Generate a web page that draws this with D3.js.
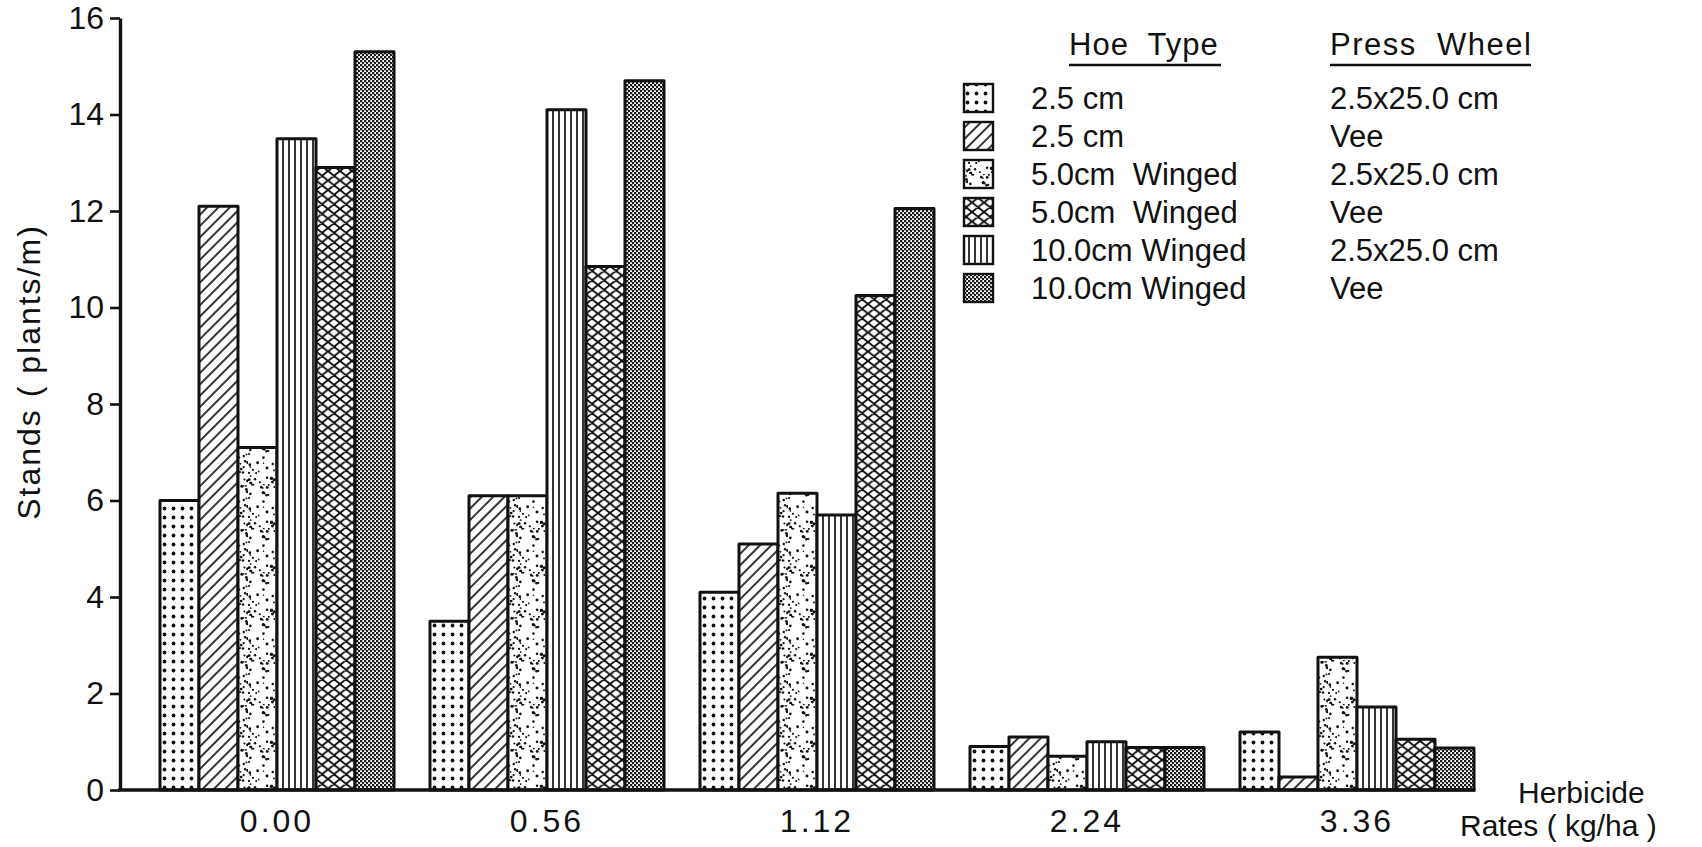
<!DOCTYPE html>
<html><head><meta charset="utf-8">
<script src="https://cdn.jsdelivr.net/npm/d3@7"></script>
<style>
body{margin:0;background:#fff;}
svg text{font-family:"Liberation Sans",Arial,sans-serif;fill:#111;}
</style></head><body>
<svg id="chart" width="1702" height="847"></svg>
<script>
// ---- data ----
const rates = ["0.00","0.56","1.12","2.24","3.36"];
const seriesKeys = ["dots","hatch","stipple","xhatch","vlines","dense"];   // legend order
const hoeTypes = ["2.5 cm","2.5 cm","5.0cm  Winged","5.0cm  Winged","10.0cm Winged","10.0cm Winged"];
const pressWheels = ["2.5x25.0 cm","Vee","2.5x25.0 cm","Vee","2.5x25.0 cm","Vee"];
const barOrder = ["dots","hatch","stipple","vlines","xhatch","dense"];      // order inside each group
const dotsValues    = [6.0, 3.5, 4.1, 0.9, 1.2];
const hatchValues   = [12.1, 6.1, 5.1, 1.1, 0.27];
const stippleValues = [7.1, 6.1, 6.15, 0.7, 2.75];
const xhatchValues  = [12.9, 10.85, 10.25, 0.88, 1.05];
const vlinesValues  = [13.5, 14.1, 5.7, 1.0, 1.72];
const denseValues   = [15.3, 14.7, 12.05, 0.88, 0.87];
const yTicks = [0,2,4,6,8,10,12,14,16];

const valuesByKey = {dots:dotsValues, hatch:hatchValues, stipple:stippleValues,
                     xhatch:xhatchValues, vlines:vlinesValues, dense:denseValues};

const svg = d3.select("#chart");
svg.append("rect").attr("width",1702).attr("height",847).attr("fill","#fff");

// ---- patterns ----
const defs = svg.append("defs");
function pat(id,w,h){
  const p = defs.append("pattern").attr("id",id).attr("patternUnits","userSpaceOnUse")
    .attr("width",w).attr("height",h);
  p.append("rect").attr("width",w).attr("height",h).attr("fill","#fff");
  return p;
}
pat("p-dots",9,9).append("circle").attr("cx",4.5).attr("cy",4.5).attr("r",1.9).attr("fill","#111");
pat("p-hatch",8,8).attr("patternTransform","rotate(45)")
  .append("line").attr("x1",4).attr("x2",4).attr("y1",0).attr("y2",8)
  .attr("stroke","#111").attr("stroke-width",1.7);
{
  const p = pat("p-stipple",44,44);
  const frac = v => v - Math.floor(v);
  for(let i=0;i<72;i++){
    const px = frac(Math.sin(i*12.9898+1.3)*43758.5453)*44;
    const py = frac(Math.sin(i*78.233+4.1)*24634.6345)*44;
    const r  = 0.8 + frac(Math.sin(i*3.17)*9631.7)*0.8;
    p.append("circle").attr("cx",px).attr("cy",py).attr("r",r).attr("fill","#111");
  }
}
{
  const w=12,h=9.5;
  const p = pat("p-xhatch",w,h);
  let d="";
  for(const dx of [-w,0,w]){
    d += `M${dx-w},${-h}L${dx+2*w},${2*h}`;
    d += `M${dx-w},${2*h}L${dx+2*w},${-h}`;
  }
  p.append("path").attr("d",d).attr("stroke","#111").attr("stroke-width",1.9).attr("fill","none");
}
pat("p-vlines",6,6).append("line").attr("x1",3).attr("x2",3).attr("y1",0).attr("y2",6)
  .attr("stroke","#111").attr("stroke-width",1.7);
{
  const p = pat("p-dense",4,4);
  p.append("rect").attr("x",0).attr("y",0).attr("width",2.3).attr("height",2.3).attr("fill","#1a1a1a");
  p.append("rect").attr("x",2).attr("y",2).attr("width",2.3).attr("height",2.3).attr("fill","#1a1a1a");
}

// ---- scales ----
const x0 = d3.scaleBand().domain(rates).range([160,1474]).paddingInner(0.1333).paddingOuter(0);
const x1 = d3.scaleBand().domain(barOrder).range([0, x0.bandwidth()]);
const y  = d3.scaleLinear().domain([0,16]).range([790,18]);

// ---- bars ----
const groups = svg.append("g").selectAll("g").data(rates).join("g")
  .attr("transform", d => `translate(${x0(d)},0)`);
groups.selectAll("rect")
  .data((r,i) => barOrder.map(k => ({key:k, value:valuesByKey[k][i]})))
  .join("rect")
  .attr("x", d => x1(d.key))
  .attr("y", d => y(d.value))
  .attr("width", x1.bandwidth())
  .attr("height", d => y(0) - y(d.value))
  .attr("fill", d => `url(#p-${d.key})`)
  .attr("stroke","#111").attr("stroke-width",3).attr("stroke-linejoin","round");

// ---- axes ----
const yAxis = svg.append("g").attr("transform","translate(120,0)")
  .call(d3.axisLeft(y).tickValues(yTicks).tickSize(10).tickSizeOuter(0).tickPadding(6)
        .tickFormat(d3.format("d")));
yAxis.select(".domain").attr("stroke","#111").attr("stroke-width",3.4);
yAxis.selectAll(".tick line").attr("stroke","#111").attr("stroke-width",2.6);
yAxis.selectAll(".tick text").attr("font-size",32).attr("fill","#111");

svg.append("line").attr("x1",118).attr("x2",x0.range()[1]+1.5)
  .attr("y1",y(0)).attr("y2",y(0)).attr("stroke","#111").attr("stroke-width",3.6);

const xAxis = svg.append("g").attr("transform",`translate(0,${y(0)})`)
  .call(d3.axisBottom(x0).tickSize(0).tickPadding(19));
xAxis.select(".domain").remove();
xAxis.selectAll(".tick text").attr("font-size",32).attr("letter-spacing",3).attr("fill","#111");

// ---- axis titles ----
svg.append("text").attr("transform","translate(40,372) rotate(-90)")
  .attr("text-anchor","middle").attr("font-size",32).attr("letter-spacing",2)
  .text("Stands ( plants/m)");
svg.append("text").attr("x",1518).attr("y",803).attr("font-size",30)
  .text("Herbicide");
svg.append("text").attr("x",1460).attr("y",836).attr("font-size",30)
  .style("white-space","pre").text("Rates ( kg/ha )");

// ---- legend ----
const leg = svg.append("g");
leg.append("text").attr("x",1069).attr("y",55).attr("font-size",31).attr("letter-spacing",1)
  .style("white-space","pre").text("Hoe  Type");
leg.append("text").attr("x",1330).attr("y",55).attr("font-size",31).attr("letter-spacing",1.5)
  .style("white-space","pre").text("Press  Wheel");
leg.append("line").attr("x1",1069).attr("x2",1221).attr("y1",65).attr("y2",65)
  .attr("stroke","#111").attr("stroke-width",2.6);
leg.append("line").attr("x1",1330).attr("x2",1531).attr("y1",65).attr("y2",65)
  .attr("stroke","#111").attr("stroke-width",2.6);

const rows = leg.selectAll("g.row").data(seriesKeys).join("g").attr("class","row")
  .attr("transform",(d,i) => `translate(0,${98 + 38*i})`);
rows.append("rect").attr("x",964).attr("y",-14).attr("width",29).attr("height",28)
  .attr("fill", d => `url(#p-${d})`).attr("stroke","#111").attr("stroke-width",2.4);
rows.append("text").attr("x",1031).attr("y",11).attr("font-size",31)
  .style("white-space","pre").text((d,i) => hoeTypes[i]);
rows.append("text").attr("x",1330).attr("y",11).attr("font-size",31)
  .style("white-space","pre").text((d,i) => pressWheels[i]);
</script>
</body></html>
